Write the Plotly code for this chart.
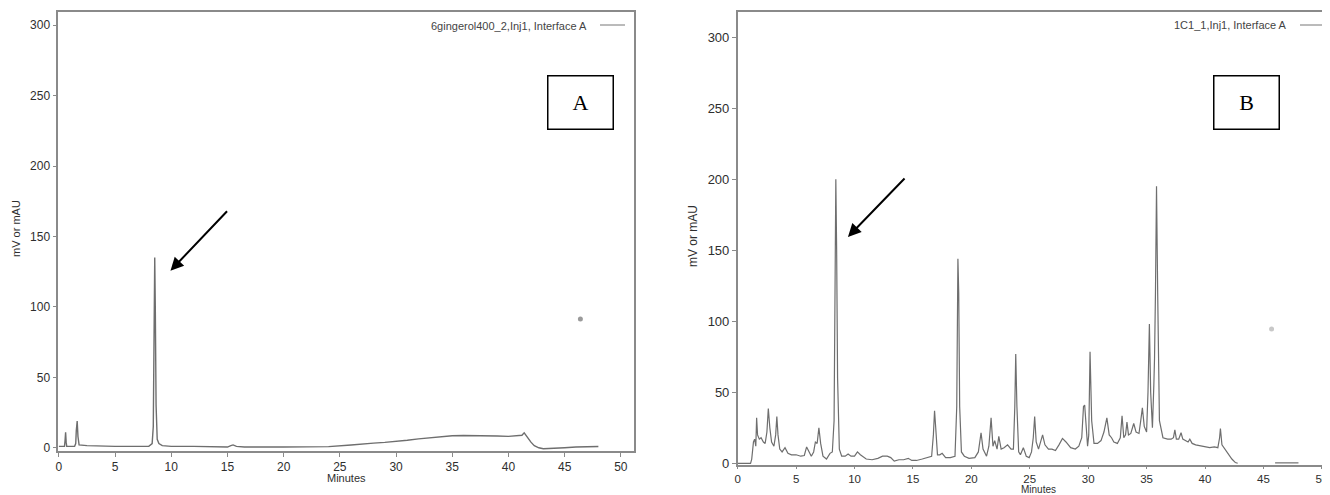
import plotly.graph_objects as go

# ---------------- data ----------------
time_a = [0, 0.5, 0.55, 0.6, 0.65, 0.7, 1.4, 1.5, 1.55, 1.63, 1.7, 1.8, 2.5, 5,
          8.0, 8.3, 8.4, 8.48, 8.53, 8.58, 8.65, 8.75, 8.9, 9.2, 10, 12,
          15, 15.3, 15.5, 15.8, 16.5, 20, 22, 24, 26, 27, 28, 29, 30, 31, 32, 33,
          34, 35, 36, 37, 38, 39, 40, 41, 41.2, 41.4, 41.7, 42.0, 42.3, 42.7,
          43.1, 44, 45, 46, 47, 48]
signal_a = [1, 1, 5, 11, 4, 1, 1, 3, 12, 19, 8, 2, 1.5, 1,
            1, 3, 15, 90, 135, 100, 30, 6, 3, 1.5, 1, 1,
            0.5, 1.5, 2, 1, 0.5, 0.5, 0.5, 0.8, 2, 2.8, 3.3, 3.8, 4.4, 5.3, 6.3, 7.2,
            8.0, 8.5, 8.7, 8.7, 8.6, 8.3, 8.1, 8.5, 8.9, 10.6, 7, 4, 1.5, 0,
            -0.7, -0.5, 0, 0.5, 0.8, 0.9]

time_b = [0, 1.1, 1.2, 1.35, 1.45, 1.55, 1.62, 1.7, 1.85, 2.0,
          2.2, 2.35, 2.5, 2.62, 2.75, 2.9, 3.1, 3.25, 3.35, 3.45,
          3.6, 3.8, 4.05, 4.3, 4.6, 5.0, 5.4, 5.7, 5.9, 6.1,
          6.3, 6.5, 6.65, 6.8, 6.95, 7.1, 7.3, 7.6, 7.9, 8.1,
          8.25, 8.33, 8.4, 8.47, 8.55, 8.7, 8.9, 9.2, 9.45, 9.7,
          10.0, 10.25, 10.5, 11.0, 11.5, 12.0, 12.4, 12.8, 13.1, 13.4,
          13.8, 14.2, 14.6, 14.9, 15.3, 15.8, 16.3, 16.6, 16.75, 16.85,
          16.95, 17.1, 17.3, 17.5, 17.8, 18.2, 18.6, 18.75, 18.85, 18.92,
          19.0, 19.15, 19.4, 19.8, 20.3, 20.6, 20.83, 21.0, 21.3, 21.5,
          21.69, 21.85, 22.0, 22.2, 22.35, 22.55, 22.8, 23.1, 23.4, 23.6,
          23.72, 23.8, 23.9, 24.05, 24.2, 24.45, 24.7, 24.95, 25.15, 25.3,
          25.42, 25.55, 25.75, 25.95, 26.1, 26.3, 26.6, 26.9, 27.2, 27.5,
          27.8, 28.1, 28.5, 28.9, 29.2, 29.45, 29.6, 29.7, 29.8, 29.95,
          30.05, 30.16, 30.3, 30.5, 30.8, 31.1, 31.35, 31.6, 31.8, 32.0,
          32.2, 32.5, 32.75, 32.9, 33.05, 33.2, 33.32, 33.45, 33.65, 33.9,
          34.1, 34.35, 34.5, 34.64, 34.8, 35.0, 35.12, 35.24, 35.35, 35.5,
          35.62, 35.68, 35.76, 35.85, 35.95, 36.1, 36.4, 36.8, 37.1, 37.3,
          37.42, 37.55, 37.75, 37.95, 38.1, 38.3, 38.55, 38.7, 38.9, 39.2,
          39.6, 40.0, 40.4, 40.8, 41.1, 41.25, 41.32, 41.45, 41.7, 42.0,
          42.3, 42.6, 42.8, None, 46.0, 48.0]
signal_b = [0, 0, 3, 15, 17, 12, 32, 20, 17, 18,
            15, 14, 22, 38.5, 25, 15, 12, 20, 33, 20,
            10, 8, 11, 7, 6, 6, 5, 5.5, 11.5, 8,
            5, 8, 15, 14, 25, 14, 5, 3, 7, 8,
            30, 120, 200, 150, 60, 10, 5, 5, 6.5, 5,
            5, 8, 6, 3, 2.5, 3.5, 5, 5, 4, 1.5,
            2.5, 2.5, 3.5, 2, 2, 3, 4.5, 5, 20, 37,
            25, 6, 6, 7, 4, 4, 5, 40, 144, 120,
            40, 8, 5, 3.5, 4, 8, 21.5, 10, 5, 12,
            32, 12, 16, 10, 19, 10, 11, 13, 10, 10,
            40, 77, 40, 8, 6, 11, 5, 4, 8, 18,
            33, 15, 10, 16, 20, 13, 10, 10, 9, 13,
            17.5, 15, 11, 10, 12, 18, 40, 41, 30, 12,
            20, 78.5, 30, 14, 14, 16, 22, 32, 20, 18,
            15, 14, 18, 33.5, 18, 20, 29, 20, 21, 28,
            22, 21, 30, 39, 26, 22, 50, 98, 50, 25,
            55, 74, 120, 195, 120, 30, 18, 17, 17, 18,
            23.5, 17, 17, 21.5, 17, 16, 15, 17, 14, 13,
            12.5, 11.5, 11, 11.5, 11, 18, 24.5, 13, 10, 6,
            3, 0.5, 0, None, 0.3, 0.3]
assert len(time_a) == len(signal_a)
assert len(time_b) == len(signal_b)

dot_a = ([46.4], [91.4])
dot_b = ([45.7], [94.6])

legend_a = "6gingerol400_2,Inj1, Interface A"
legend_b = "1C1_1,Inj1, Interface A"
x_title = "Minutes"
y_title = "mV or mAU"
x_ticks = [0, 5, 10, 15, 20, 25, 30, 35, 40, 45, 50]
y_ticks = [0, 50, 100, 150, 200, 250, 300]

# ---------------- figure ----------------
OFF = 8                      # page body margin in the browser
W, H = 1330 - OFF, 495 - OFF
LINE = "#6e6e6e"
AX = "#8a8a8a"
TXT = "#2e2e2e"
FONT = "Liberation Sans, Arial, sans-serif"


def px(x):
    """page pixel x -> paper coordinate"""
    return (x - OFF) / W


def py(y):
    """page pixel y -> paper coordinate"""
    return (H - (y - OFF)) / H


fig = go.Figure()
fig.add_trace(go.Scatter(x=time_a, y=signal_a, mode="lines",
                         line=dict(color=LINE, width=1.4), xaxis="x", yaxis="y",
                         showlegend=False, hoverinfo="skip"))
fig.add_trace(go.Scatter(x=dot_a[0], y=dot_a[1], mode="markers",
                         marker=dict(color="#9a9a9a", size=5), xaxis="x", yaxis="y",
                         showlegend=False))
fig.add_trace(go.Scatter(x=time_b, y=signal_b, mode="lines", connectgaps=False,
                         line=dict(color=LINE, width=1.2), xaxis="x2", yaxis="y2",
                         showlegend=False, hoverinfo="skip"))
fig.add_trace(go.Scatter(x=dot_b[0], y=dot_b[1], mode="markers",
                         marker=dict(color="#c8c8c8", size=5), xaxis="x2", yaxis="y2",
                         showlegend=False))


def axis_style(vals, size, tl=4):
    return dict(tickmode="array", tickvals=vals, ticks="outside", ticklen=tl,
                tickcolor=AX, showline=True, linecolor=AX, linewidth=1.5,
                showgrid=False, zeroline=False, automargin=False,
                tickfont=dict(family=FONT, size=size, color=TXT))


fig.update_layout(
    width=W, height=H,
    margin=dict(l=0, r=0, t=0, b=0),
    paper_bgcolor="white", plot_bgcolor="white",
    xaxis=dict(**axis_style(x_ticks, 12), domain=[px(58.3), px(634)],
               range=[-0.05, 51.17], mirror=True, anchor="y"),
    yaxis=dict(**axis_style(y_ticks, 12), domain=[py(451), py(12)],
               range=[-2.3, 309.4], mirror=True, anchor="x"),
    xaxis2=dict(**axis_style(x_ticks, 11.5, 2), domain=[px(737.7), 1.0],
                range=[0, 50.7], mirror=True, anchor="y2"),
    yaxis2=dict(**axis_style(y_ticks, 13), domain=[py(465), py(11.7)],
                range=[-1.2, 318.0], mirror=False, anchor="x2"),
)

# axis titles
for (cx, cy, size) in [(346.5, 478, 11), (1038, 489.5, 10)]:
    fig.add_annotation(x=px(cx), y=py(cy), xref="paper", yref="paper",
                       text=x_title, showarrow=False, xanchor="center", yanchor="middle",
                       font=dict(family=FONT, size=size, color=TXT))
for (cx, cy, size) in [(16, 229, 11), (693, 236, 12)]:
    fig.add_annotation(x=px(cx), y=py(cy), xref="paper", yref="paper",
                       text=y_title, showarrow=False, textangle=-90,
                       xanchor="center", yanchor="middle",
                       font=dict(family=FONT, size=size, color=TXT))

# legends (text + line sample)
fig.add_annotation(x=px(589), y=py(26), xref="paper", yref="paper", xanchor="right",
                   yanchor="middle", text=legend_a, showarrow=False,
                   font=dict(family=FONT, size=11, color="#444444"))
fig.add_shape(type="line", xref="paper", yref="paper", x0=px(600), x1=px(625),
              y0=py(25), y1=py(25), line=dict(color="#777777", width=1))
fig.add_annotation(x=px(1289), y=py(25), xref="paper", yref="paper", xanchor="right",
                   yanchor="middle", text=legend_b, showarrow=False,
                   font=dict(family=FONT, size=11, color="#444444"))
fig.add_shape(type="line", xref="paper", yref="paper", x0=px(1300), x1=px(1325),
              y0=py(25), y1=py(25), line=dict(color="#777777", width=1))

# panel labels
for cx, lab in [(580.5, "A"), (1280, "B")]:
    fig.add_annotation(x=px(cx), y=py(75), xref="paper", yref="paper",
                       text=lab, showarrow=False, width=62, height=50,
                       bordercolor="black", borderwidth=1.5, bgcolor="white",
                       font=dict(family="Liberation Serif, Times New Roman, serif",
                                 size=22, color="black"))

# arrows
fig.add_annotation(x=9.93, y=125.7, xref="x", yref="y", ax=58, ay=-61,
                   showarrow=True, arrowhead=2, arrowsize=1.3, arrowwidth=2,
                   arrowcolor="black", text="")
fig.add_annotation(x=9.44, y=159.4, xref="x2", yref="y2", ax=58, ay=-60,
                   showarrow=True, arrowhead=2, arrowsize=1.3, arrowwidth=2,
                   arrowcolor="black", text="")

fig.write_html("out.html")
